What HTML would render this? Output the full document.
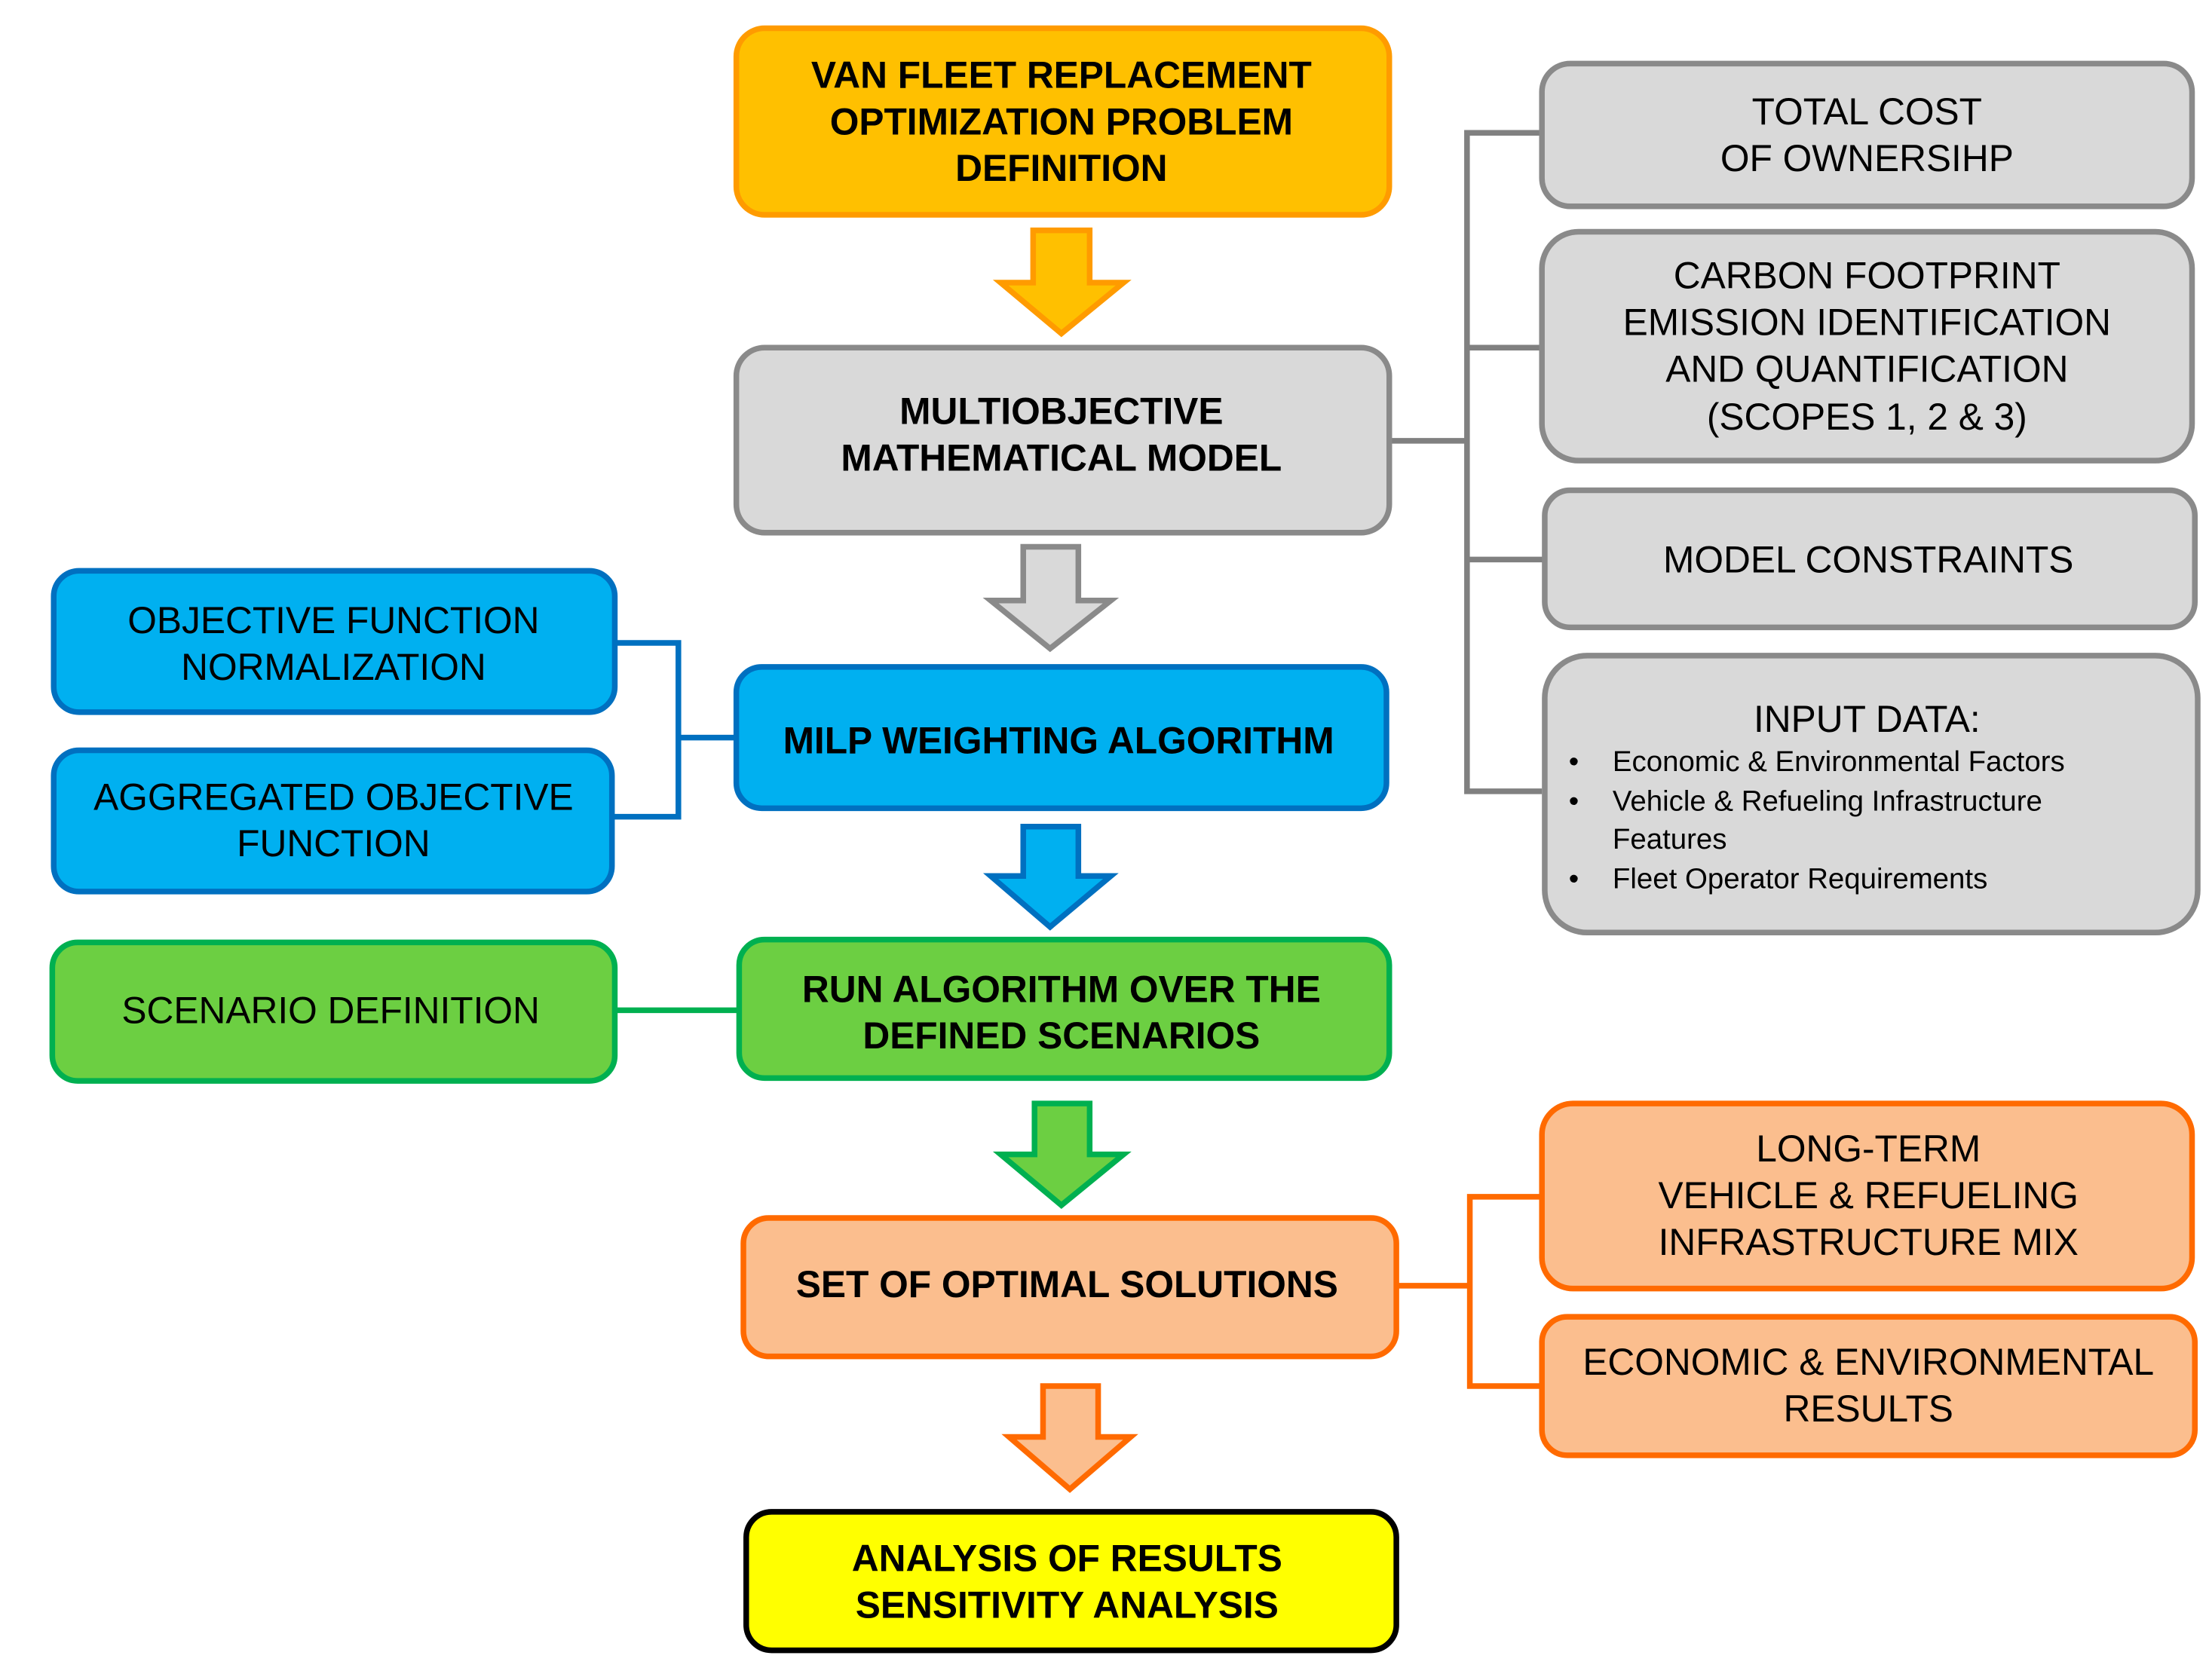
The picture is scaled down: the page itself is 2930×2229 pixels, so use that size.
<!DOCTYPE html>
<html><head><meta charset="utf-8"><style>
html,body{margin:0;padding:0;background:#fff;}
svg{display:block;}
text{font-family:"Liberation Sans",Arial,sans-serif;fill:#000;text-anchor:middle;dominant-baseline:central;}
.b{font-weight:bold;font-size:26.5px;}
.n{font-size:26.5px;}
.s{font-size:20.5px;text-anchor:start;}
</style></head><body>
<svg width="2930" height="2229" viewBox="0 0 1563 1189" xmlns="http://www.w3.org/2000/svg">
<!-- connectors -->
<g fill="none" stroke-width="4">
<path d="M983 312H1038M1091 94H1038V560H1091M1038 246H1091M1038 396H1093" stroke="#808080"/>
<path d="M435 455H480V578H433M480 522H521" stroke="#0070C0"/>
<path d="M435 715H523" stroke="#00B050"/>
<path d="M988 910H1040M1091 847H1040V981H1091" stroke="#FF6A00"/>
</g>
<!-- main boxes -->
<g stroke-width="4">
<rect x="521" y="20" width="462" height="132" rx="20" fill="#FFC000" stroke="#FF9B00"/>
<rect x="521" y="246" width="462" height="131" rx="20" fill="#D9D9D9" stroke="#8A8A8A"/>
<rect x="521" y="472" width="460" height="100" rx="18" fill="#00B0F0" stroke="#0070C0"/>
<rect x="523" y="665" width="460" height="98" rx="18" fill="#6CCF42" stroke="#00B050"/>
<rect x="526" y="862" width="462" height="98" rx="18" fill="#FBBE8E" stroke="#FF6A00"/>
<rect x="528" y="1070" width="460" height="98" rx="18" fill="#FFFF00" stroke="#000"/>
<rect x="38" y="404" width="397" height="100" rx="18" fill="#00B0F0" stroke="#0070C0"/>
<rect x="38" y="531" width="395" height="100" rx="18" fill="#00B0F0" stroke="#0070C0"/>
<rect x="37" y="667" width="398" height="98" rx="18" fill="#6CCF42" stroke="#00B050"/>
<rect x="1091" y="45" width="460" height="101" rx="20" fill="#D9D9D9" stroke="#8A8A8A"/>
<rect x="1091" y="164" width="460" height="162" rx="26" fill="#D9D9D9" stroke="#8A8A8A"/>
<rect x="1093" y="347" width="460" height="97" rx="18" fill="#D9D9D9" stroke="#8A8A8A"/>
<rect x="1093" y="464" width="462" height="196" rx="30" fill="#D9D9D9" stroke="#8A8A8A"/>
<rect x="1091" y="781" width="460" height="131" rx="22" fill="#FBBE8E" stroke="#FF6A00"/>
<rect x="1091" y="932" width="462" height="98" rx="18" fill="#FBBE8E" stroke="#FF6A00"/>
</g>
<!-- arrows -->
<g stroke-width="4" stroke-linejoin="miter">
<path d="M731 163H771V200H795L751 236L708 200H731Z" fill="#FFC000" stroke="#FF9B00"/>
<path d="M724 387H763V425H786L743 459L701 425H724Z" fill="#D9D9D9" stroke="#8A8A8A"/>
<path d="M724 585H763V620H786L743 656L701 620H724Z" fill="#00B0F0" stroke="#0070C0"/>
<path d="M732 781H771V817H795L751 853L708 817H732Z" fill="#6CCF42" stroke="#00B050"/>
<path d="M738 981H777V1017H800L757 1054L714 1017H738Z" fill="#FBBE8E" stroke="#FF6A00"/>
</g>
<!-- text -->
<text class="b" x="751" y="53">VAN FLEET REPLACEMENT</text>
<text class="b" x="751" y="86">OPTIMIZATION PROBLEM</text>
<text class="b" x="751" y="119">DEFINITION</text>
<text class="b" x="751" y="291">MULTIOBJECTIVE</text>
<text class="b" x="751" y="324">MATHEMATICAL MODEL</text>
<text class="b" x="749" y="524">MILP WEIGHTING ALGORITHM</text>
<text class="b" x="751" y="700">RUN ALGORITHM OVER THE</text>
<text class="b" x="751" y="733">DEFINED SCENARIOS</text>
<text class="b" x="755" y="909">SET OF OPTIMAL SOLUTIONS</text>
<text class="b" x="755" y="1103">ANALYSIS OF RESULTS</text>
<text class="b" x="755" y="1136">SENSITIVITY ANALYSIS</text>
<text class="n" x="236" y="439">OBJECTIVE FUNCTION</text>
<text class="n" x="236" y="472">NORMALIZATION</text>
<text class="n" x="236" y="564">AGGREGATED OBJECTIVE</text>
<text class="n" x="236" y="597">FUNCTION</text>
<text class="n" x="234" y="715">SCENARIO DEFINITION</text>
<text class="n" x="1321" y="79">TOTAL COST</text>
<text class="n" x="1321" y="112">OF OWNERSIHP</text>
<text class="n" x="1321" y="195">CARBON FOOTPRINT</text>
<text class="n" x="1321" y="228">EMISSION IDENTIFICATION</text>
<text class="n" x="1321" y="261">AND QUANTIFICATION</text>
<text class="n" x="1321" y="295">(SCOPES 1, 2 &amp; 3)</text>
<text class="n" x="1322" y="396">MODEL CONSTRAINTS</text>
<text class="n" x="1321" y="509">INPUT DATA:</text>
<text class="s" x="1110" y="539">•</text><text class="s" x="1141" y="539">Economic &amp; Environmental  Factors</text>
<text class="s" x="1110" y="567">•</text><text class="s" x="1141" y="567">Vehicle &amp; Refueling Infrastructure</text>
<text class="s" x="1141" y="594">Features</text>
<text class="s" x="1110" y="622">•</text><text class="s" x="1141" y="622">Fleet Operator Requirements</text>
<text class="n" x="1322" y="813">LONG-TERM</text>
<text class="n" x="1322" y="846">VEHICLE &amp; REFUELING</text>
<text class="n" x="1322" y="879">INFRASTRUCTURE  MIX</text>
<text class="n" x="1322" y="964">ECONOMIC &amp; ENVIRONMENTAL</text>
<text class="n" x="1322" y="997">RESULTS</text>
</svg>
</body></html>
